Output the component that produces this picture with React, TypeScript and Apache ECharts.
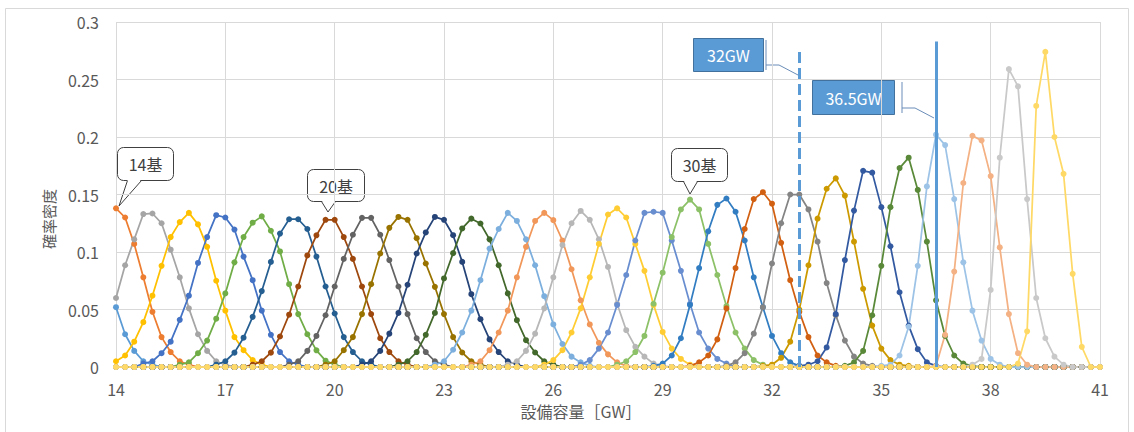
import { useEffect, useRef } from "react";
import * as echarts from "echarts";

// Capacity grid of the density curves (GW)
const capacityMin = 14;
const capacityMax = 41;
const capacityStep = 0.25;
const capacityTickStep = 3;

const densityMax = 0.3;
const densityTickStep = 0.05;

// Number of units behind each curve
const unitLabels = [
  "13基", "14基", "15基", "16基", "17基", "18基", "19基", "20基", "21基", "22基",
  "23基", "24基", "25基", "26基", "27基", "28基", "29基", "30基", "31基", "32基",
  "33基", "34基", "35基", "36基", "37基", "38基", "39基", "40基",
];

const unitColors = [
  "#5B9BD5", "#ED7D31", "#A5A5A5", "#FFC000", "#4472C4", "#70AD47", "#255E91",
  "#9E480E", "#636363", "#997300", "#264478", "#43682B", "#7CAFDD", "#F1975A",
  "#B7B7B7", "#FFCD33", "#698ED0", "#8CC168", "#327DC2", "#D26012", "#848484",
  "#CC9A00", "#335AA1", "#5A8A39", "#9DC3E6", "#F4B183", "#C9C9C9", "#FFD966",
];

// First capacity (GW) of each curve's listed values; zero elsewhere
const curveStarts = [
  14, 14, 14, 14, 14.75, 15.75, 16.75, 17.75, 18.75, 19.75, 20.75, 21.75, 22.75, 23.75,
  24.75, 25.75, 26.75, 27.75, 28.75, 29.75, 30.75, 31.75, 32.75, 34, 35, 36.5, 37.5, 38.75,
];

// Probability density every 0.25 GW from each curve's start
const density13 = [0.052, 0.0285, 0.014, 0.005, 0.002];
const density14 = [0.138, 0.13, 0.107, 0.078, 0.048, 0.026, 0.013, 0.005, 0.002];
const density15 = [0.06, 0.0885, 0.111, 0.133, 0.1335, 0.125, 0.102, 0.078, 0.051, 0.0285, 0.014, 0.005, 0.002];
const density16 = [0.005, 0.01, 0.022, 0.039, 0.062, 0.088, 0.113, 0.126, 0.134, 0.124, 0.1045, 0.075, 0.049, 0.026, 0.0146, 0.006, 0.002];
const density17 = [0.003, 0.005, 0.012, 0.022, 0.041, 0.062, 0.0905, 0.113, 0.132, 0.13, 0.1195, 0.096, 0.0755, 0.049, 0.028, 0.013, 0.005, 0.002];
const density18 = [0.002, 0.004, 0.012, 0.023, 0.042, 0.064, 0.091, 0.113, 0.1255, 0.131, 0.1185, 0.1005, 0.072, 0.046, 0.0285, 0.0145, 0.0055, 0.002];
const density19 = [0.002, 0.005, 0.0125, 0.0255, 0.0436, 0.066, 0.0914, 0.116, 0.1285, 0.1285, 0.12, 0.096, 0.07, 0.0465, 0.026, 0.013, 0.005, 0.002];
const density20 = [0.002, 0.005, 0.0125, 0.0265, 0.0455, 0.07, 0.097, 0.1145, 0.128, 0.128, 0.113, 0.094, 0.07, 0.046, 0.025, 0.013, 0.005, 0.002];
const density21 = [0.002, 0.005, 0.014, 0.027, 0.045, 0.07, 0.094, 0.115, 0.1297, 0.1297, 0.115, 0.093, 0.07, 0.046, 0.025, 0.013, 0.005, 0.002];
const density22 = [0.002, 0.005, 0.0146, 0.026, 0.046, 0.072, 0.0987, 0.121, 0.1305, 0.128, 0.112, 0.09, 0.0697, 0.046, 0.026, 0.0126, 0.005, 0.002];
const density23 = [0.002, 0.005, 0.014, 0.029, 0.047, 0.0715, 0.0987, 0.117, 0.1305, 0.128, 0.1146, 0.0914, 0.0633, 0.0416, 0.024, 0.013, 0.005, 0.002];
const density24 = [0.002, 0.005, 0.013, 0.028, 0.047, 0.077, 0.099, 0.1205, 0.129, 0.1248, 0.111, 0.0885, 0.064, 0.0407, 0.0233, 0.0126, 0.005, 0.002];
const density25 = [0.002, 0.005, 0.015, 0.03, 0.049, 0.0755, 0.103, 0.12, 0.134, 0.127, 0.111, 0.0885, 0.0616, 0.037, 0.02, 0.009, 0.004, 0.001];
const density26 = [0.002, 0.005, 0.0146, 0.03, 0.049, 0.078, 0.1045, 0.127, 0.134, 0.1277, 0.11, 0.085, 0.058, 0.037, 0.021, 0.011, 0.004, 0.001];
const density27 = [0.002, 0.005, 0.014, 0.029, 0.051, 0.078, 0.106, 0.125, 0.1357, 0.128, 0.111, 0.087, 0.055, 0.032, 0.0175, 0.009, 0.003, 0.001];
const density28 = [0.002, 0.006, 0.0146, 0.03, 0.051, 0.078, 0.107, 0.1326, 0.138, 0.13, 0.107, 0.0836, 0.054, 0.0305, 0.016, 0.007, 0.002];
const density29 = [0.002, 0.006, 0.016, 0.03, 0.054, 0.08, 0.11, 0.134, 0.135, 0.134, 0.11, 0.0836, 0.055, 0.03, 0.016, 0.007, 0.003];
const density30 = [0.002, 0.005, 0.013, 0.027, 0.055, 0.082, 0.113, 0.137, 0.1456, 0.137, 0.107, 0.08, 0.053, 0.03, 0.016, 0.006, 0.002];
const density31 = [0.001, 0.003, 0.01, 0.025, 0.054, 0.086, 0.118, 0.141, 0.1465, 0.135, 0.11, 0.078, 0.052, 0.027, 0.012, 0.004, 0.001];
const density32 = [0.001, 0.004, 0.01, 0.024, 0.051, 0.086, 0.12, 0.146, 0.152, 0.142, 0.108, 0.0755, 0.048, 0.026, 0.01, 0.004, 0.001];
const density33 = [0.001, 0.004, 0.012, 0.029, 0.052, 0.09, 0.125, 0.15, 0.15, 0.137, 0.109, 0.073, 0.045, 0.023, 0.009, 0.003, 0.001];
const density34 = [0.001, 0.002, 0.008, 0.022, 0.05, 0.0885, 0.129, 0.155, 0.164, 0.149, 0.109, 0.068, 0.036, 0.016, 0.006, 0.002, 0.001];
const density35 = [0.001, 0.002, 0.005, 0.017, 0.046, 0.093, 0.136, 0.1706, 0.169, 0.139, 0.105, 0.065, 0.036, 0.0155, 0.004, 0.001];
const density36 = [0.001, 0.004, 0.014, 0.045, 0.088, 0.139, 0.173, 0.182, 0.154, 0.109, 0.058, 0.027, 0.01, 0.003, 0.001];
const density37 = [0.001, 0.002, 0.01, 0.035, 0.088, 0.157, 0.202, 0.193, 0.146, 0.091, 0.049, 0.023, 0.007, 0.002];
const density38 = [0.001, 0.028, 0.083, 0.16, 0.201, 0.197, 0.166, 0.104, 0.046, 0.012, 0.002];
const density39 = [0.002, 0.007, 0.067, 0.182, 0.259, 0.244, 0.146, 0.06, 0.025, 0.009, 0.002];
const density40 = [0.003, 0.031, 0.227, 0.274, 0.2, 0.168, 0.081, 0.0175];

const densities = [
  density13, density14, density15, density16, density17, density18, density19,
  density20, density21, density22, density23, density24, density25, density26,
  density27, density28, density29, density30, density31, density32, density33,
  density34, density35, density36, density37, density38, density39, density40,
];

// Capacity thresholds drawn as vertical lines
const limitPositions = [32.75, 36.5];
const limitTops = [0.277, 0.283];
const limitLabels = ["32GW", "36.5GW"];
const limitDashed = [true, false];

// Callouts naming individual curves
const calloutLabels = ["14基", "20基", "30基"];

const FONT = '"Noto Sans CJK JP", "Noto Sans", sans-serif';
const TEXT_COLOR = "#595959";
const GRID_COLOR = "#D9D9D9";
const LIMIT_COLOR = "#5B9BD5";

const capacities = Array.from(
  { length: Math.round((capacityMax - capacityMin) / capacityStep) + 1 },
  (_, i) => capacityMin + i * capacityStep
);

function curveData(start: number, values: number[]) {
  const offset = Math.round((start - capacityMin) / capacityStep);
  return capacities.map((c, i) => {
    const j = i - offset;
    return [c, j >= 0 && j < values.length ? values[j] : 0];
  });
}

// Layout of the annotation boxes (pixels)
const calloutBoxes = [
  { x: 117, y: 147, w: 56, h: 33, base: [127, 141], tip: [119, 206] },
  { x: 307, y: 169, w: 57, h: 32, base: [321, 335], tip: [328, 212] },
  { x: 671, y: 148, w: 56, h: 33, base: [683, 697], tip: [690, 194] },
];
const limitBoxes = [
  { x: 693, y: 38, w: 70, h: 33, leader: [[766, 40], [766, 70]], arm: [[766, 65], [779, 65], [798, 75]] },
  { x: 812, y: 80, w: 82, h: 34, leader: [[902, 82], [902, 113]], arm: [[902, 108], [915, 108], [934, 118]] },
];

export default function App() {
  const ref = useRef<HTMLDivElement>(null);

  useEffect(() => {
    if (!ref.current) return;
    const chart = echarts.init(ref.current, undefined, { renderer: "svg" });

    const series: any[] = densities.map((values, k) => ({
      name: unitLabels[k],
      type: "line",
      data: curveData(curveStarts[k], values),
      symbol: "circle",
      symbolSize: 6,
      color: unitColors[k],
      itemStyle: { color: unitColors[k] },
      lineStyle: { color: unitColors[k], width: 1.75 },
      emphasis: { disabled: true },
      silent: true,
    }));

    series[series.length - 1].markLine = {
      silent: true,
      symbol: ["none", "none"],
      label: { show: false },
      z: 5,
      data: limitPositions.map((x, i) => [
        {
          coord: [x, 0],
          lineStyle: {
            color: LIMIT_COLOR,
            width: 3,
            type: limitDashed[i] ? [11, 5] : "solid",
          },
        },
        { coord: [x, limitTops[i]] },
      ]),
    };

    const graphic: any[] = [
      {
        type: "rect",
        silent: true,
        shape: { x: 5.5, y: 8.5, width: 1123, height: 440 },
        style: { fill: "none", stroke: GRID_COLOR, lineWidth: 1 },
      },
    ];

    calloutBoxes.forEach((b, i) => {
      graphic.push({
        type: "group",
        z: 20,
        silent: true,
        children: [
          {
            type: "rect",
            shape: { x: b.x + 0.5, y: b.y + 0.5, width: b.w, height: b.h, r: 6 },
            style: { fill: "#FFFFFF", stroke: "#404040", lineWidth: 1 },
          },
          {
            type: "polygon",
            shape: {
              points: [
                [b.base[0] + 0.5, b.y + b.h - 1],
                [b.base[1] + 0.5, b.y + b.h - 1],
                [b.tip[0], b.tip[1]],
              ],
            },
            style: { fill: "#FFFFFF", stroke: "none" },
          },
          {
            type: "polyline",
            shape: {
              points: [
                [b.base[0] + 0.5, b.y + b.h + 0.5],
                [b.tip[0], b.tip[1]],
                [b.base[1] + 0.5, b.y + b.h + 0.5],
              ],
            },
            style: { fill: "none", stroke: "#404040", lineWidth: 1 },
          },
          {
            type: "text",
            x: b.x + b.w / 2 + 0.5,
            y: b.y + b.h / 2 + 0.5,
            style: {
              text: calloutLabels[i],
              fontFamily: FONT,
              fontSize: 16,
              fill: "#404040",
              align: "center",
              verticalAlign: "middle",
            },
          },
        ],
      });
    });

    limitBoxes.forEach((b, i) => {
      graphic.push({
        type: "group",
        z: 20,
        silent: true,
        children: [
          {
            type: "polyline",
            shape: { points: b.leader },
            style: { fill: "none", stroke: "#6A8DB8", lineWidth: 1 },
          },
          {
            type: "polyline",
            shape: { points: b.arm },
            style: { fill: "none", stroke: "#6A8DB8", lineWidth: 1 },
          },
          {
            type: "rect",
            shape: { x: b.x + 0.5, y: b.y + 0.5, width: b.w, height: b.h },
            style: { fill: LIMIT_COLOR, stroke: "#41719C", lineWidth: 1 },
          },
          {
            type: "text",
            x: b.x + b.w / 2 + 0.5,
            y: b.y + b.h / 2 + 0.5,
            style: {
              text: limitLabels[i],
              fontFamily: FONT,
              fontSize: 16,
              fill: "#FFFFFF",
              align: "center",
              verticalAlign: "middle",
            },
          },
        ],
      });
    });

    // Axis titles
    graphic.push(
      {
        type: "text",
        silent: true,
        x: 581,
        y: 411,
        style: {
          text: "設備容量［GW］",
          fontFamily: FONT,
          fontSize: 16,
          fill: TEXT_COLOR,
          align: "center",
          verticalAlign: "middle",
        },
      },
      {
        type: "text",
        silent: true,
        x: 48,
        y: 219,
        rotation: Math.PI / 2,
        style: {
          text: "確率密度",
          fontFamily: FONT,
          fontSize: 15,
          fill: TEXT_COLOR,
          align: "center",
          verticalAlign: "middle",
        },
      }
    );

    chart.setOption({
      animation: false,
      grid: { left: 116, right: 34, top: 22, bottom: 65, containLabel: false, outerBoundsMode: "none" },
      tooltip: { show: false },
      xAxis: {
        type: "value",
        min: capacityMin,
        max: capacityMax,
        interval: capacityTickStep,
        axisLine: { show: true, lineStyle: { color: GRID_COLOR, width: 1 } },
        axisTick: { show: false },
        splitLine: { show: true, lineStyle: { color: GRID_COLOR, width: 1 } },
        axisLabel: { color: TEXT_COLOR, fontSize: 16, fontFamily: FONT, margin: 14 },
      },
      yAxis: {
        type: "value",
        min: 0,
        max: densityMax,
        interval: densityTickStep,
        axisLine: { show: false },
        axisTick: { show: false },
        splitLine: { show: true, lineStyle: { color: GRID_COLOR, width: 1 } },
        axisLabel: { color: TEXT_COLOR, fontSize: 16, fontFamily: FONT, margin: 17 },
      },
      series,
      graphic,
    });

    return () => chart.dispose();
  }, []);

  return (
    <div
      ref={ref}
      style={{ position: "absolute", left: 0, top: 0, width: 1134, height: 432 }}
    />
  );
}
